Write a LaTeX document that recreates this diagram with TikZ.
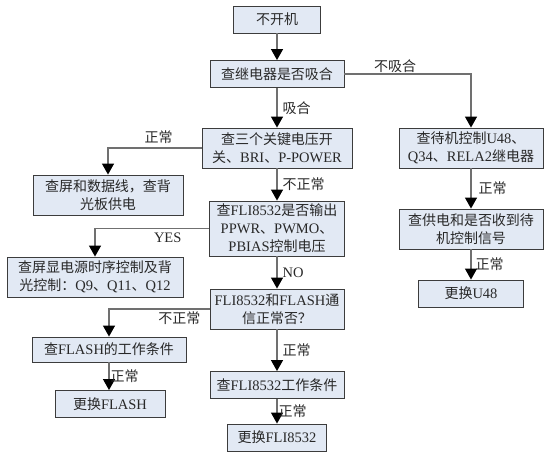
\documentclass[tikz,border=0pt]{standalone}
\usepackage{fontspec}
\setmainfont{Liberation Serif}
\newfontfamily\cjk[Scale=0.965]{Noto Sans CJK SC}
\usetikzlibrary{arrows.meta,positioning,shadows}

% switch to the CJK font for Chinese characters
\XeTeXinterchartokenstate=1
\newXeTeXintercharclass\cjkclass
\count255="3000
\loop
  \XeTeXcharclass\count255=\cjkclass
  \ifnum\count255<"9FFF \advance\count255 by 1 \repeat
\count255="FF00
\loop
  \XeTeXcharclass\count255=\cjkclass
  \ifnum\count255<"FFEF \advance\count255 by 1 \repeat
\XeTeXinterchartoks 0 \cjkclass = {\cjk}
\XeTeXinterchartoks 4095 \cjkclass = {\cjk}
\XeTeXinterchartoks \cjkclass 0 = {\rmfamily}
\XeTeXinterchartoks \cjkclass 4095 = {\rmfamily}

\definecolor{boxfill}{RGB}{226,233,244}
\definecolor{boxline}{RGB}{60,60,60}
\definecolor{linegray}{RGB}{112,112,112}
\definecolor{textgray}{RGB}{40,40,40}

\tikzset{
  box/.style={draw=boxline, fill=boxfill, line width=0.9pt, inner sep=0pt,
    align=center, minimum height=27pt, text=textgray,
    font=\fontsize{14.5}{18}\selectfont,
    general shadow={shadow xshift=0.8pt, shadow yshift=-0.8pt, fill=black!55}},
  flow/.style={draw=linegray, line width=1.3pt,
    -{Triangle[width=12pt,length=11pt,color=black]}},
  lbl/.style={font=\fontsize{14.5}{18}\selectfont, text=textgray, inner sep=1pt}
}

\begin{document}
\begin{tikzpicture}[x=1pt,y=-1pt]
\useasboundingbox (0,0) rectangle (553,453);

% middle column
\node[box, minimum width=87pt] (start) at (277,19.5) {不开机};
\node[box, minimum width=134pt] (relay) at (277,74) {查继电器是否吸合};
\node[box, minimum width=150pt, minimum height=40pt] (volt) at (277,148) {查三个关键电压开\\关、BRI、P-POWER};
\node[box, minimum width=135pt, minimum height=55pt] (fli) at (277,228.5) {查FLI8532是否输出\\PPWR、PWMO、\\PBIAS控制电压};
\node[box, minimum width=134pt, minimum height=40pt] (flash) at (277,309) {FLI8532和FLASH通\\信正常否？};
\node[box, minimum width=134pt] (flicond) at (277,385) {查FLI8532工作条件};
\node[box, minimum width=99pt] (replfli) at (277,437.5) {更换FLI8532};

% left column
\node[box, minimum width=150pt, minimum height=40pt] (screen) at (108,195) {查屏和数据线，查背\\光板供电};
\node[box, minimum width=176pt, minimum height=40pt] (timing) at (95,277) {查屏显电源时序控制及背\\光控制：Q9、Q11、Q12};
\node[box, minimum width=154pt, minimum height=25pt] (flashcond) at (109,349.5) {查FLASH的工作条件};
\node[box, minimum width=110pt] (replflash) at (110,404) {更换FLASH};

% right column
\node[box, minimum width=144pt, minimum height=40pt] (standby) at (471,148) {查待机控制U48、\\Q34、RELA2继电器};
\node[box, minimum width=144pt, minimum height=40pt] (supply) at (471,229) {查供电和是否收到待\\机控制信号};
\node[box, minimum width=105pt] (replU48) at (471,293.5) {更换U48};

% connectors
\draw[flow] (start) -- (relay);
\draw[flow] (relay) -- node[lbl, right=4pt] {吸合} (volt);
\draw[flow] (relay.east) -| node[lbl, pos=0.2, above] {不吸合} (standby.north);
\draw[flow] (volt.west) -| node[lbl, pos=0.23, above=3pt] {正常} (screen.north);
\draw[flow] (volt) -- node[lbl, right=4pt] {不正常} (fli);
\draw[flow] (fli.west) -| node[lbl, at start, below left=3pt and 26pt] {YES} (timing.north);
\draw[flow] (fli) -- node[lbl, right=4pt] {NO} (flash);
\draw[flow] (flash.west) -| node[lbl, pos=0.15, below=1pt] {不正常} (flashcond.north);
\draw[flow] (flash) -- node[lbl, right=4pt] {正常} (flicond);
\draw[flow] (flashcond.south) -- node[lbl, right=0pt] {正常} (flashcond.south |- replflash.north);
\draw[flow] (flicond) -- node[lbl, right=0pt] {正常} (replfli);
\draw[flow] (standby) -- node[lbl, right=6pt] {正常} (supply);
\draw[flow] (supply) -- node[lbl, right=3pt] {正常} (replU48);
\end{tikzpicture}
\end{document}
